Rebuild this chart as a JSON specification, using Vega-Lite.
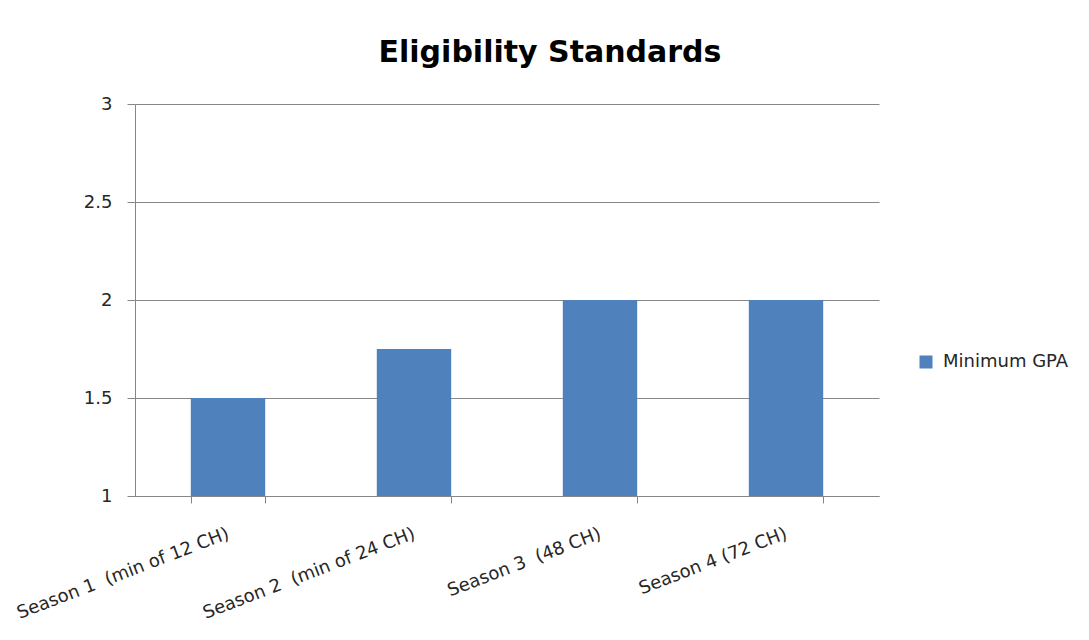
{
  "$schema": "https://vega.github.io/schema/vega-lite/v6.json",
  "width": 744,
  "height": 392,
  "autosize": {"type": "none"},
  "padding": {"left": 135, "top": 104, "right": 210, "bottom": 144},
  "background": "white",
  "title": {
    "text": "Eligibility Standards",
    "font": "DejaVu Sans",
    "fontSize": 30,
    "fontWeight": "bold",
    "color": "#000000",
    "anchor": "middle",
    "dx": 43,
    "offset": 27
  },
  "data": {
    "values": [
      {"season": "Season 1\u00a0 (min of 12 CH)", "series": "Minimum GPA", "gpa": 1.5},
      {"season": "Season 2\u00a0 (min of 24 CH)", "series": "Minimum GPA", "gpa": 1.75},
      {"season": "Season 3\u00a0 (48 CH)", "series": "Minimum GPA", "gpa": 2.0},
      {"season": "Season 4 (72 CH)", "series": "Minimum GPA", "gpa": 2.0}
    ]
  },
  "mark": {"type": "bar", "clip": true},
  "encoding": {
    "x": {
      "field": "season",
      "type": "nominal",
      "sort": null,
      "scale": {"paddingInner": 0.6, "paddingOuter": 0.3},
      "axis": {
        "title": null,
        "labelAngle": -21,
        "labelAlign": "right",
        "labelBaseline": "middle",
        "labelFont": "DejaVu Sans",
        "labelFontSize": 18,
        "labelColor": "#262626",
        "labelPadding": 30,
        "labelLimit": 0,
        "labelOverlap": false,
        "domainColor": "#868686",
        "tickColor": "#868686",
        "tickSize": 7,
        "tickBand": "extent",
        "grid": false
      }
    },
    "y": {
      "field": "gpa",
      "type": "quantitative",
      "scale": {"domain": [1, 3], "zero": false, "nice": false},
      "axis": {
        "title": null,
        "values": [1, 1.5, 2, 2.5, 3],
        "format": "~g",
        "labelFont": "DejaVu Sans",
        "labelFontSize": 18,
        "labelColor": "#262626",
        "labelPadding": 15,
        "domainColor": "#868686",
        "tickColor": "#868686",
        "tickSize": 8,
        "grid": true,
        "gridColor": "#868686",
        "gridWidth": 1
      }
    },
    "color": {
      "field": "series",
      "type": "nominal",
      "scale": {"range": ["#4F81BD"]},
      "legend": {
        "title": null,
        "orient": "none",
        "legendX": 782,
        "legendY": 249,
        "symbolType": "square",
        "symbolSize": 169,
        "symbolStrokeWidth": 0,
        "labelOffset": 8,
        "labelFont": "DejaVu Sans",
        "labelFontSize": 18,
        "labelColor": "#262626"
      }
    }
  },
  "config": {
    "view": {"stroke": null}
  }
}
